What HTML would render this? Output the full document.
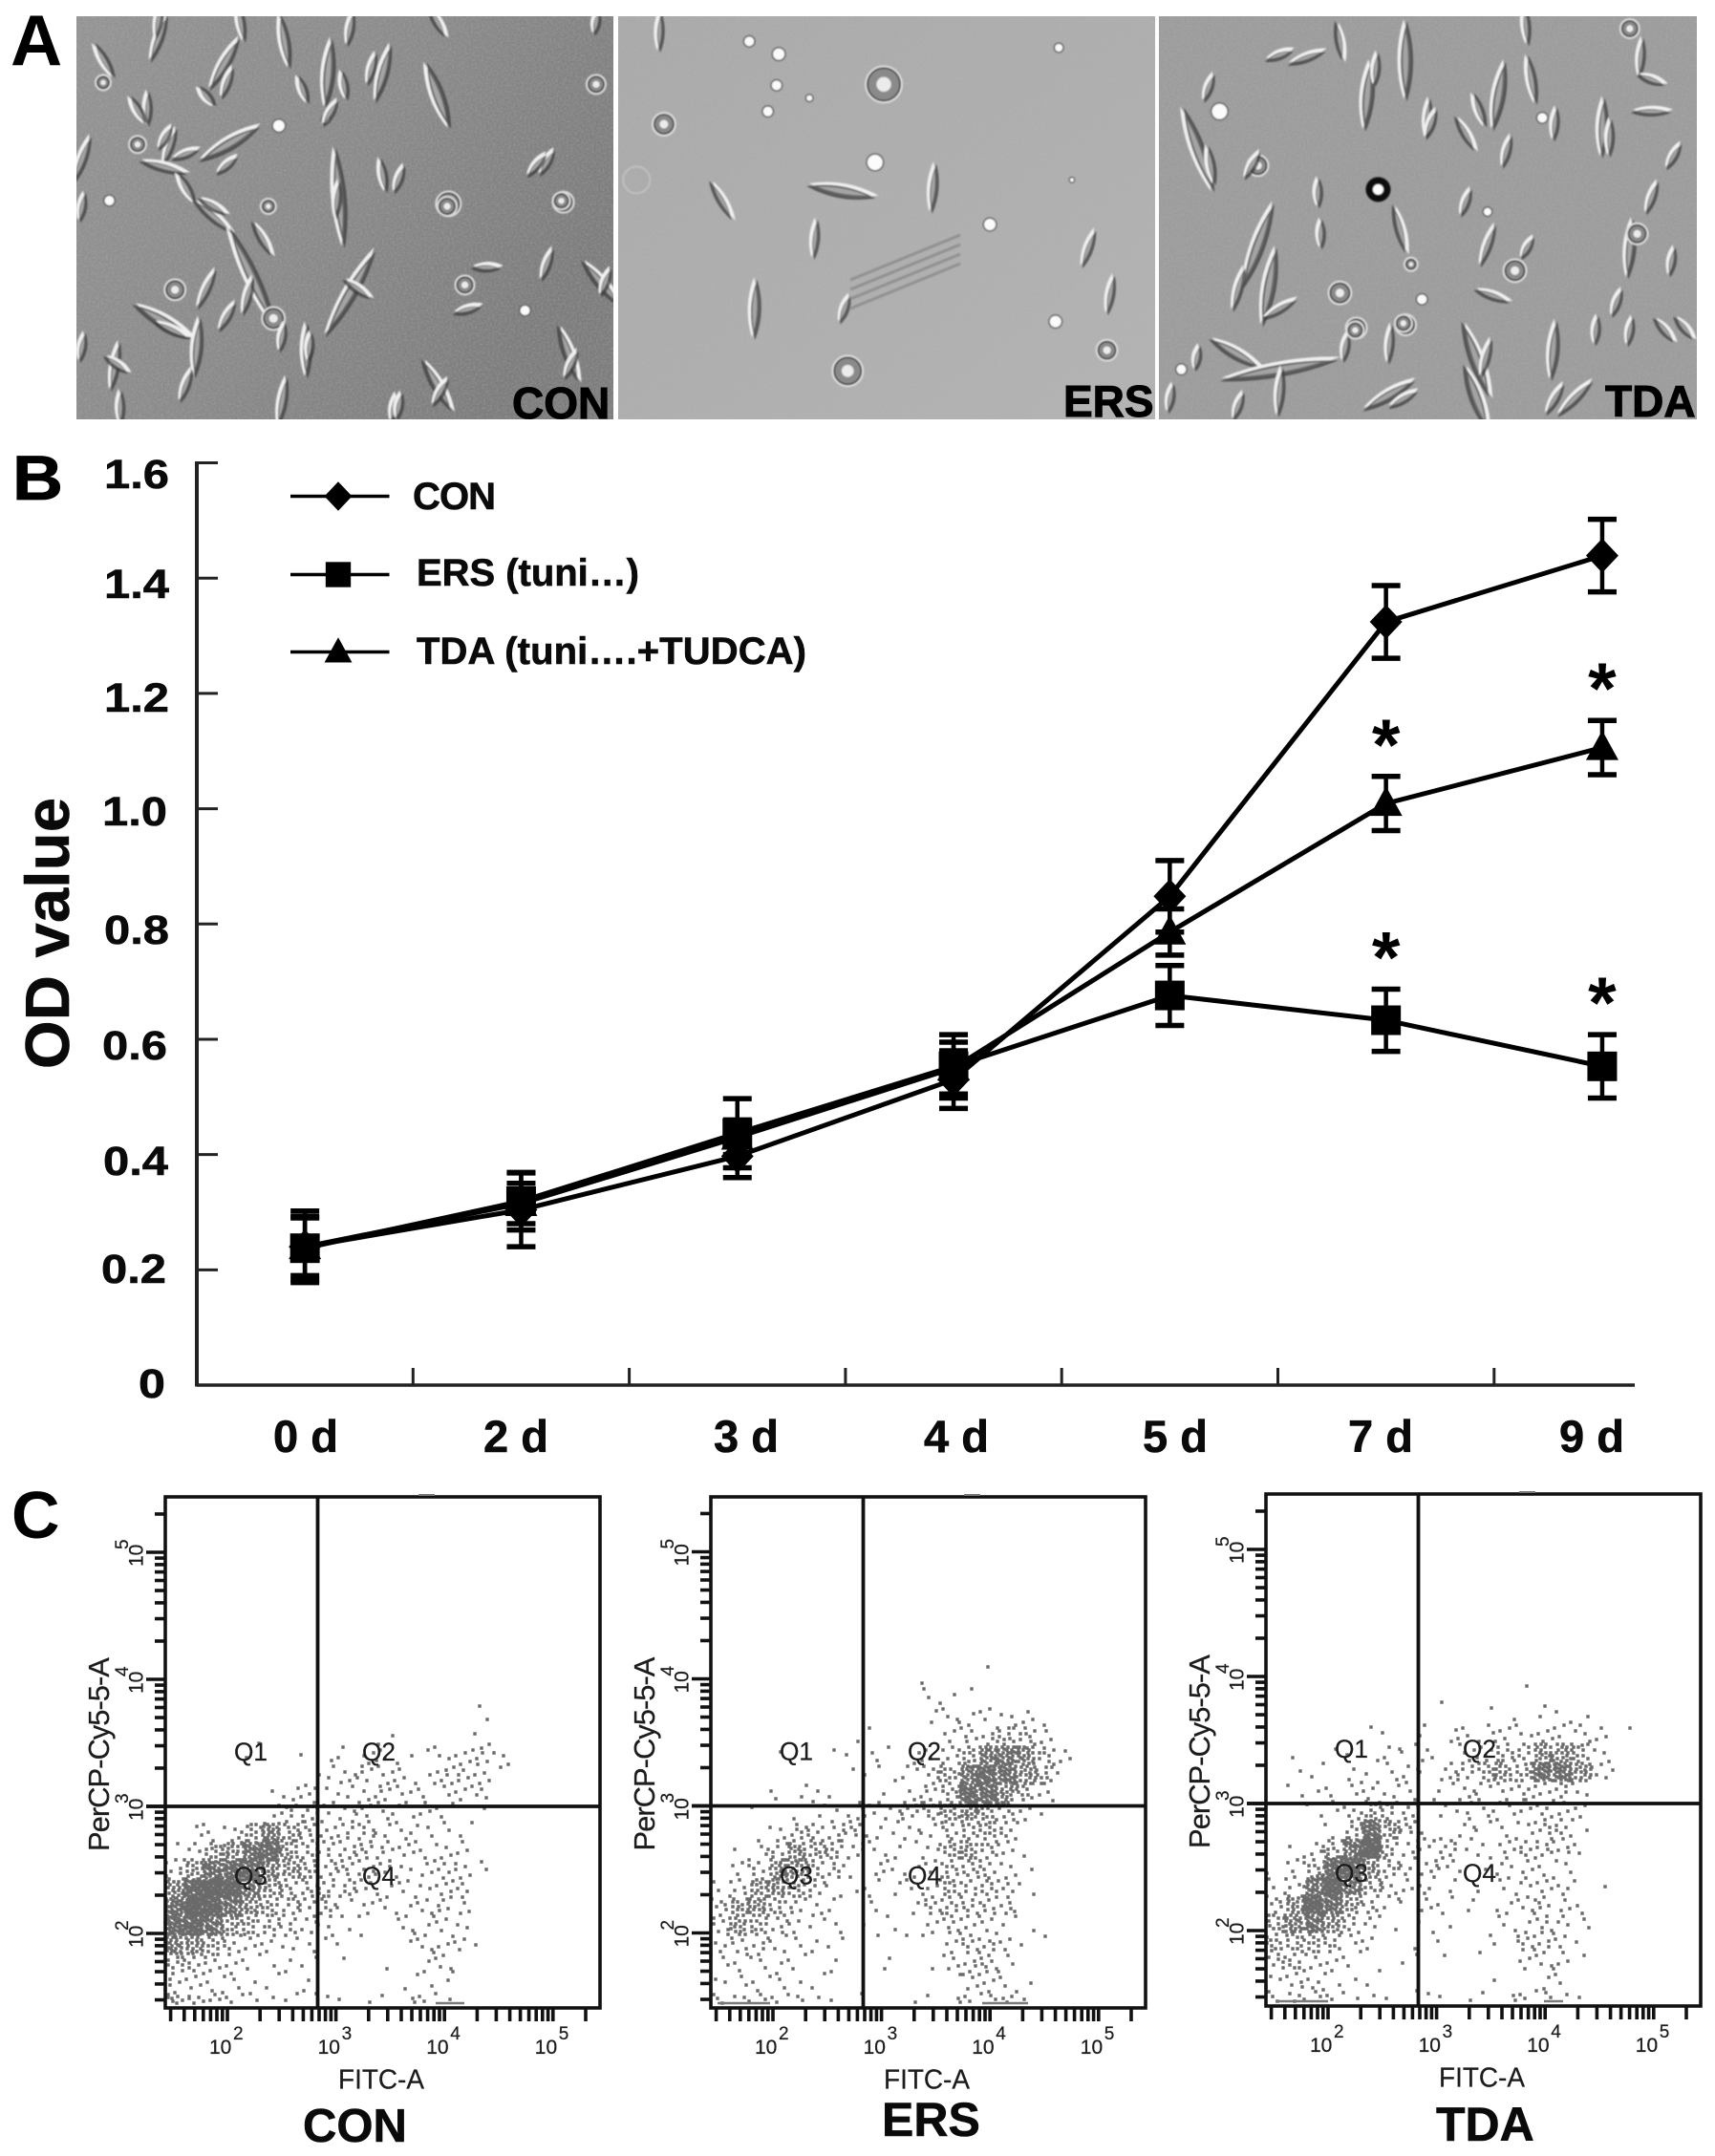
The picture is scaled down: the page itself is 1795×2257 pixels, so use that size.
<!DOCTYPE html>
<html lang="en">
<head>
<meta charset="utf-8">
<title>Cell morphology, OD growth curve and flow cytometry</title>
<style>
  html, body { margin: 0; padding: 0; background: #fff; }
  #figure { display: block; width: 1795px; height: 2257px; font-family: "Liberation Sans", sans-serif; }
  text { font-family: "Liberation Sans", sans-serif; }
  .panel-letter { font-weight: 700; fill: #000; }
  .b { font-weight: 700; fill: #0a0a0a; stroke: #0a0a0a; stroke-width: 0.6px; }
  .micro-label { font-weight: 700; font-size: 46px; fill: #000; stroke: #000; stroke-width: 1px; }
  .flow { fill: #1c1c1c; stroke: #1c1c1c; stroke-width: 0.25px; }
</style>
</head>
<body>
<svg id="figure" xmlns="http://www.w3.org/2000/svg" width="1795" height="2257" viewBox="0 0 1795 2257">
  <defs>
    <filter id="grain" x="0" y="0" width="100%" height="100%">
      <feTurbulence type="fractalNoise" baseFrequency="0.45" numOctaves="2" seed="4"/>
      <feColorMatrix type="matrix" values="0 0 0 0 0.5  0 0 0 0 0.5  0 0 0 0 0.5  1.6 0 0 0 -0.55"/>
    </filter>
    <filter id="soft" x="-5%" y="-5%" width="110%" height="110%"><feGaussianBlur stdDeviation="0.7"/></filter>
    <linearGradient id="con-shade" x1="0" y1="0" x2="1" y2="0.5">
      <stop offset="0" stop-color="#949494"/><stop offset="0.55" stop-color="#8a8a8a"/><stop offset="1" stop-color="#7c7c7c"/>
    </linearGradient>
    <linearGradient id="ers-shade" x1="0" y1="0" x2="1" y2="1">
      <stop offset="0" stop-color="#a9a9a9"/><stop offset="1" stop-color="#b3b3b3"/>
    </linearGradient>
    <clipPath id="clip-con"><rect x="80" y="17" width="562" height="422"/></clipPath>
    <clipPath id="clip-ers"><rect x="647" y="17" width="562" height="422"/></clipPath>
    <clipPath id="clip-tda"><rect x="1213" y="17" width="563" height="422"/></clipPath>
  </defs>

  <text class="panel-letter" x="11" y="68" font-size="75">A</text>
  <text class="panel-letter" x="13" y="523" font-size="66" textLength="53" lengthAdjust="spacingAndGlyphs" stroke="#000" stroke-width="0.8">B</text>
  <text class="panel-letter" x="12" y="1610" font-size="70">C</text>

  <g>
    <rect x="80" y="17" width="562" height="422" fill="url(#con-shade)"/>
    <rect x="80" y="17" width="562" height="422" filter="url(#grain)" opacity="0.35"/>
    <g id="cells-con" clip-path="url(#clip-con)" filter="url(#soft)"></g>
  </g>
  <g>
    <rect x="647" y="17" width="562" height="422" fill="url(#ers-shade)"/>
    <rect x="647" y="17" width="562" height="422" filter="url(#grain)" opacity="0.3"/>
    <g id="cells-ers" clip-path="url(#clip-ers)" filter="url(#soft)"></g>
  </g>
  <g>
    <rect x="1213" y="17" width="563" height="422" fill="#9c9c9c"/>
    <rect x="1213" y="17" width="563" height="422" filter="url(#grain)" opacity="0.3"/>
    <g id="cells-tda" clip-path="url(#clip-tda)" filter="url(#soft)"></g>
  </g>
  <text class="micro-label" x="536" y="438">CON</text>
  <text class="micro-label" x="1113" y="436">ERS</text>
  <text class="micro-label" x="1680" y="436">TDA</text>

  <g id="line-chart">
    <text class="b" font-size="65" transform="translate(72 1119) rotate(-90)" textLength="284">OD value</text>

    <g font-size="43" text-anchor="end">
      <text class="b" x="177" y="511" textLength="68" lengthAdjust="spacingAndGlyphs">1.6</text>
      <text class="b" x="177" y="626" textLength="68" lengthAdjust="spacingAndGlyphs">1.4</text>
      <text class="b" x="177" y="745" textLength="68" lengthAdjust="spacingAndGlyphs">1.2</text>
      <text class="b" x="175" y="864" textLength="68" lengthAdjust="spacingAndGlyphs">1.0</text>
      <text class="b" x="177" y="988" textLength="68" lengthAdjust="spacingAndGlyphs">0.8</text>
      <text class="b" x="175" y="1109" textLength="68" lengthAdjust="spacingAndGlyphs">0.6</text>
      <text class="b" x="176" y="1230" textLength="68" lengthAdjust="spacingAndGlyphs">0.4</text>
      <text class="b" x="174" y="1343" textLength="68" lengthAdjust="spacingAndGlyphs">0.2</text>
      <text class="b" x="173" y="1463" textLength="28" lengthAdjust="spacingAndGlyphs">0</text>
    </g>

    <g font-size="47" text-anchor="middle">
      <text class="b" x="320" y="1520">0 d</text>
      <text class="b" x="540" y="1520">2 d</text>
      <text class="b" x="781" y="1520">3 d</text>
      <text class="b" x="1001" y="1520">4 d</text>
      <text class="b" x="1230" y="1520">5 d</text>
      <text class="b" x="1445" y="1520">7 d</text>
      <text class="b" x="1666" y="1520">9 d</text>
    </g>

    <g id="chart-axes"></g>
    <g id="chart-series"></g>

    <g id="legend">
      <text class="b" x="432" y="533" font-size="40" textLength="87">CON</text>
      <text class="b" x="436" y="613" font-size="40" textLength="233">ERS (tuni…)</text>
      <text class="b" x="436" y="695" font-size="40" textLength="408">TDA (tuni….+TUDCA)</text>
    </g>
  </g>

  <g id="flow-plots"></g>

  <text class="b" x="317" y="2242" font-size="49">CON</text>
  <text class="b" x="923" y="2236" font-size="50">ERS</text>
  <text class="b" x="1503" y="2241" font-size="50">TDA</text>
</svg>

<script>
/* ---------- line chart data (panel B) ---------- */
const categories = ['0 d', '2 d', '3 d', '4 d', '5 d', '7 d', '9 d'];
const yTicks = [0, 0.2, 0.4, 0.6, 0.8, 1.0, 1.2, 1.4, 1.6];
const conValues = [0.24, 0.304, 0.397, 0.53, 0.848, 1.324, 1.439];
const conErrors = [0.062, 0.064, 0.037, 0.05, 0.062, 0.063, 0.063];
const ersValues = [0.2375, 0.319, 0.437, 0.553, 0.676, 0.633, 0.553];
const ersErrors = [0.055, 0.05, 0.06, 0.055, 0.052, 0.054, 0.055];
const tdaValues = [0.24, 0.315, 0.43, 0.55, 0.786, 1.009, 1.106];
const tdaErrors = [0.05, 0.035, 0.03, 0.045, 0.04, 0.047, 0.047];
const ersSignificant = [0, 0, 0, 0, 0, 1, 1];
const tdaSignificant = [0, 0, 0, 0, 0, 1, 1];

/* ---------- flow cytometry data (panel C) ----------
   Event density: one string per 20px row (top to bottom),
   one base-36 character per 20px column. Digits count events singly; letters
   (near-solid areas) are read as value * 2 - 9 events. */
const conDensity = ['','','','','','','','','','',
  '00000000000000001','00000000000000001','00001000000200002',
  '000010011233213463','000000003454325541','00000135133542334','00000266334423211',
  '0233aia7567343211','14aempc956754343','6cmppgca666533552','fszuic9787433355',
  'mzukea8673423453','psmca86431103333','ifa64332110013431','9753222201010231',
  '543321120000121','753221111111132'];
const ersDensity = ['','','','','','','','',
  '000000000000001','000000000001','00000000000221','000000000002333331','000000011000356983',
  '0001001121235aikg83','000000012136akpme91','0002221101368poe94','001012234367cea831',
  '00136766323379a61','0128ea952313ac841','036ee961233398741','26cea6213224a7852',
  '6ce9532021268776','6ca632202114554111','46533220000036731','2232212002014563',
  '32231100000004422','33223111001113331'];
const tdaDensity = ['','','','','','','','','','',
  '00000000010001','00000000000101221','00000110223343434301',
  '01011132304597eea3','01112133157acamme41','02123433024345563','00224a74123433443',
  '00017oc6104233662','013akz95472246752','138pse8454124333','25kuka534201344411',
  '6eumc631332034632','agme7410210023642','aaa83301010306631','68432102010003341',
  '3542110000010022','34222111111113311'];
const flowTickDecades = [2, 3, 4, 5];

/* ---------- micrograph cell sketches (panel A, zoom-view coordinates) ---------- */
const conCells = [
 ['s',145,120,50,70],['s',95,190,40,120],['s',205,200,60,60],['s',260,130,55,100],['s',300,230,70,85],['s',350,230,60,75],
 ['s',400,300,70,110],['s',135,340,35,90],['s',210,450,70,30],['s',155,460,40,70],['s',150,525,50,-15],['s',170,590,35,120],
 ['s',195,680,50,-40],['s',310,620,100,95],['s',350,550,35,100],['r',410,640,11],['r',515,635,9],['s',500,510,30,60],
 ['s',240,750,40,-60],['s',230,870,110,115],['s',320,920,100,60],['r',160,910,9],['s',150,1010,70,-30],['r',250,1000,10],
 ['s',180,1090,60,85],['s',280,1100,55,90],['s',105,1150,50,80],['s',400,1210,60,-60],['s',520,1110,60,-70],['s',550,890,60,-50],
 ['s',500,830,35,70],['s',445,840,30,0],['r',425,895,8],['s',258,1260,50,80],['s',110,1280,35,90],['s',360,1280,30,80],
 ['s',75,500,50,70],['s',75,650,30,80],['s',75,1090,30,80],['s',145,60,40,80],['s',220,70,40,100],['s',320,90,35,80],['s',400,70,35,-60],
 ['w',255,395,6],['w',298,375,4],['w',480,975,5],['w',100,630,5],['r',545,265,8],['s',545,70,25,80]
];
const ersCells = [
 ['w',685,130,5],['w',712,170,6],['w',710,268,5],['w',740,308,3],['w',702,350,5],['r',607,390,10],['w',968,150,4],
 ['r',808,265,17],['s',603,100,40,88],['w',800,510,8],['s',770,600,70,-10],['s',660,630,45,-60],['s',853,590,50,85],
 ['s',745,750,40,85],['w',905,705,6],['s',995,780,40,70],['s',1015,925,40,80],['s',690,970,60,88],['s',772,970,30,70],
 ['w',965,1010,6],['r',1012,1100,9],['r',775,1165,14],['w',980,565,2],['f',582,565,14]
];
const tdaCells = [
 ['s',1225,130,40,-80],['s',1195,180,40,20],['s',1285,190,80,90],['s',1250,300,70,85],['s',1105,275,30,70],['w',1115,350,8],
 ['s',1095,470,90,110],['r',1150,520,9],['s',1205,605,30,90],['b',1260,595,10],['s',1340,635,30,70],['s',1305,370,40,85],
 ['s',1340,420,40,-60],['s',1370,300,70,80],['s',1400,250,50,100],['s',1465,400,60,88],['s',1500,180,40,85],['s',1510,250,30,-20],
 ['s',1510,350,40,0],['s',1530,490,30,60],['s',1510,620,35,70],['s',1280,720,50,-75],['s',1150,770,90,70],['s',1160,900,80,80],
 ['s',1170,970,40,30],['s',1360,770,45,70],['r',1385,850,10],['s',1490,780,60,85],['r',1225,920,10],['r',1240,1030,9],['r',1285,1020,9],
 ['s',1130,1110,60,-30],['s',1170,1160,120,10],['s',1350,1130,80,-70],['s',1420,1100,60,85],['s',1490,1040,30,80],['s',1540,1030,30,-50],
 ['s',1270,1240,60,30],['s',1170,1230,50,85],['s',1350,1250,70,-70],['s',1440,1250,50,45],['w',1080,1160,5],['w',1300,940,5],['w',1360,665,4],
 ['r',1290,830,5],['w',1410,370,5],['s',1395,80,40,95],['r',1490,90,8],['s',1070,1250,30,80],['s',1230,1090,30,80]
];
/* extra, smaller cells positioned in the 1246px-wide overview of the figure */
const conExtraCells = [
 ['s',100,80,32,120],['s',120,100,28,60],['s',135,112,30,20],['s',165,60,34,70],['s',150,70,26,130],['s',245,145,38,85],['s',290,130,30,70],
 ['r',325,150,8],['r',408,146,7],['s',220,65,30,110],['s',270,50,34,75],['s',250,62,30,100],['s',240,82,30,60],['s',155,150,34,-30],['s',165,120,28,40],
 ['s',125,240,40,-25],['s',165,230,34,60],['s',260,210,34,-35],['s',150,210,44,65],['s',180,215,40,75],['s',205,245,30,80],['s',225,252,30,85],
 ['s',85,265,30,-35],['s',135,280,36,70],['s',320,285,32,60],['s',290,295,28,80],['s',415,265,32,65],['s',440,205,30,70],['s',390,120,30,50],['s',340,225,30,15],
 ['r',195,150,6],['r',100,105,7],['r',75,60,6]
];
const tdaExtraCells = [
 ['s',900,210,46,75],['s',880,120,40,100],['s',930,40,30,20],['s',1000,50,34,85],['s',1040,90,32,70],['s',1075,80,36,110],['s',1095,110,34,75],
 ['s',1130,90,34,85],['s',1170,100,38,88],['r',1190,170,9],['s',1215,190,30,80],['s',1175,220,30,70],['s',1085,215,38,-20],['s',1110,180,26,60],
 ['s',960,170,30,90],['s',1010,250,40,85],['s',1080,260,40,75],['s',1160,240,30,85],['s',1130,290,36,60],['s',1210,240,32,-50],['s',870,260,26,80],
 ['s',900,295,30,70],['s',1020,290,34,30],['r',985,240,7],['r',1020,235,7],['s',910,120,32,60]
];

const NS = 'http://www.w3.org/2000/svg';
function svgEl(tag, attrs, parent) {
  const el = document.createElementNS(NS, tag);
  for (const k in attrs) el.setAttribute(k, attrs[k]);
  if (parent) parent.appendChild(el);
  return el;
}

/* ---------- panel A ---------- */
function drawCells(groupId, cells, baseName, scaleX, scaleY) {
  const g = document.getElementById(groupId);
  cells.forEach(function (c) {
    const x = c[1] * scaleX, y = c[2] * scaleY;
    const cell = svgEl('g', { transform: 'translate(' + x + ' ' + y + ')' }, g);
    
    
    if (c[0] === 's') {
      const L = c[3] * 1.05, W = Math.min(6.5, Math.max(4, c[3] * 0.09));
      const rot = 'rotate(' + (-c[4]) + ')';
      const lens = 'M' + (-L / 2) + ' 0Q0 ' + (-W * 2) + ' ' + (L / 2) + ' 0Q0 ' + (W * 2) + ' ' + (-L / 2) + ' 0Z';
      svgEl('path', { d: lens, fill: '#f0f0f0', transform: rot + ' translate(1.5 -2)' }, cell);
      svgEl('path', { d: lens, fill: '#3c3c3c', 'fill-opacity': '0.75', transform: rot + ' translate(-1 1.5)' }, cell);
      svgEl('path', { d: lens, fill: '#a4a4a4', transform: rot + ' scale(0.7 0.42)' }, cell);
    } else if (c[0] === 'r') {
      svgEl('circle', { r: c[3] + 2, fill: 'none', stroke: '#dcdcdc', 'stroke-width': 2 }, cell);
      svgEl('circle', { r: c[3], fill: '#8a8a8a', stroke: '#3e3e3e', 'stroke-width': 1.6 }, cell);
      svgEl('circle', { r: c[3] * 0.45, fill: '#ececec' }, cell);
    } else if (c[0] === 'w') {
      svgEl('circle', { r: c[3] + 1.5, fill: '#5e5e5e' }, cell);
      svgEl('circle', { r: c[3], fill: '#fbfbfb' }, cell);
    } else if (c[0] === 'b') {
      svgEl('circle', { r: c[3] + 3, fill: '#111' }, cell);
      svgEl('circle', { r: c[3] * 0.55, fill: '#fff' }, cell);
    } else {
      svgEl('circle', { r: c[3], fill: 'none', stroke: '#c0c0c0', 'stroke-width': 2 }, cell);
    }
  });
}
drawCells('cells-con', conCells, 'cell-con', 1 / 0.8735, 1 / 3);
drawCells('cells-ers', ersCells, 'cell-ers', 1 / 0.8735, 1 / 3);
drawCells('cells-tda', tdaCells, 'cell-tda', 1 / 0.8735, 1 / 3);
drawCells('cells-con', conExtraCells, 'cell-con', 1.44, 1.44);
drawCells('cells-tda', tdaExtraCells, 'cell-tda', 1.44, 1.44);

const fringeGroup = svgEl('g', { stroke: '#8a8a8a', 'stroke-width': 3, opacity: 0.8 }, document.getElementById('cells-ers'));


[0, 1, 2, 3].forEach(function (i) {
  svgEl('line', { x1: 890, y1: 293 + i * 10, x2: 1005, y2: 246 + i * 10 }, fringeGroup);
});

/* ---------- panel B ---------- */
const axisLeft = 206, axisBottom = 1450, axisTop = 484.5, axisRight = 1711;
const bandWidth = 226.3;
function xPos(i) { return axisLeft + (i + 0.5) * bandWidth; }
function yPos(v) { return axisBottom - (v / 1.6) * (axisBottom - axisTop); }

const axes = document.getElementById('chart-axes');
const yAxis = svgEl('line', { x1: axisLeft, y1: axisTop - 1.5, x2: axisLeft, y2: axisBottom + 1.5, stroke: '#222', 'stroke-width': 4 }, axes);


const xAxis = svgEl('line', { x1: axisLeft, y1: axisBottom, x2: axisRight, y2: axisBottom, stroke: '#222', 'stroke-width': 3.5 }, axes);


yTicks.forEach(function (v) {
  const t = svgEl('line', { x1: axisLeft, y1: yPos(v), x2: axisLeft + 22, y2: yPos(v), stroke: '#222', 'stroke-width': 3 }, axes);
  
  
});
categories.forEach(function (c, i) {
  if (i === 0) return;
  const x = axisLeft + i * bandWidth;
  const t = svgEl('line', { x1: x, y1: axisBottom, x2: x, y2: axisBottom - 18, stroke: '#222', 'stroke-width': 3 }, axes);
  
  
});

function drawMarker(kind, x, y, parent, scale) {
  const s = scale || 1;
  if (kind === 'diamond') {
    return svgEl('path', { d: 'M' + x + ' ' + (y - 18 * s) + 'L' + (x + 17 * s) + ' ' + y + 'L' + x + ' ' + (y + 18 * s) + 'L' + (x - 17 * s) + ' ' + y + 'Z', fill: '#000' }, parent);
  }
  if (kind === 'square') {
    return svgEl('rect', { x: x - 15.5 * s, y: y - 15.5 * s, width: 31 * s, height: 31 * s, fill: '#000' }, parent);
  }
  return svgEl('path', { d: 'M' + x + ' ' + (y - 18 * s) + 'L' + (x + 17 * s) + ' ' + (y + 13 * s) + 'L' + (x - 17 * s) + ' ' + (y + 13 * s) + 'Z', fill: '#000' }, parent);
}

function drawSeries(name, kind, values, errors) {
  const layer = document.getElementById('chart-series');
  const g = svgEl('g', {}, layer);
  
  
  const points = values.map(function (v, i) { return xPos(i) + ',' + yPos(v); }).join(' ');
  const line = svgEl('polyline', { points: points, fill: 'none', stroke: '#000', 'stroke-width': 5, 'stroke-linejoin': 'round' }, g);
  
  
  values.forEach(function (v, i) {
    const x = xPos(i), top = yPos(v + errors[i]), bot = yPos(v - errors[i]);
    const bar = svgEl('g', { stroke: '#000', 'stroke-width': 4.5 }, g);
    
    
    svgEl('line', { x1: x, y1: top, x2: x, y2: bot }, bar);
    svgEl('line', { x1: x - 15, y1: top, x2: x + 15, y2: top, 'stroke-width': 5.5 }, bar);
    svgEl('line', { x1: x - 15, y1: bot, x2: x + 15, y2: bot, 'stroke-width': 5.5 }, bar);
    const m = drawMarker(kind, x, yPos(v), g);
    
    
  });
}
drawSeries('con', 'diamond', conValues, conErrors);
drawSeries('tda', 'triangle', tdaValues, tdaErrors);
drawSeries('ers', 'square', ersValues, ersErrors);

function drawAsterisks(flags, values, errors, name) {
  const layer = document.getElementById('chart-series');
  flags.forEach(function (f, i) {
    if (!f) return;
    const t = svgEl('text', { x: xPos(i), y: yPos(values[i] + errors[i]) - 7, 'font-size': 76, 'font-weight': 700, 'text-anchor': 'middle', fill: '#000' }, layer);
    
    
    t.textContent = '*';
  });
}
drawAsterisks(tdaSignificant, tdaValues, tdaErrors, 'tda');
drawAsterisks(ersSignificant, ersValues, ersErrors, 'ers');

const legend = document.getElementById('legend');
[['con', 'diamond', 519.5], ['ers', 'square', 601.5], ['tda', 'triangle', 682.5]].forEach(function (e) {
  const g = svgEl('g', {}, legend);
  
  
  svgEl('line', { x1: 304, y1: e[2], x2: 407.5, y2: e[2], stroke: '#000', 'stroke-width': 3.5 }, g);
  drawMarker(e[1], 354, e[2], g, 0.85);
});

/* ---------- panel C ---------- */
function frac(v) { return v - Math.floor(v); }
function eventsInCell(ch) {
  const n = parseInt(ch, 36);
  return n > 9 ? n * 2 - 9 : n;
}

function drawFlowPlot(name, left, top, height, density, gateX, gateY, grayRuns) {
  const root = document.getElementById('flow-plots');
  const width = 455;
  const plot = svgEl('g', { transform: 'translate(' + left + ' ' + top + ')' }, root);
  
  

  /* axis functions: log10 event value to plot-relative pixels */
  const fx = function (logV) { return 65 + 113.6 * (logV - 2); };
  const fy = function (logV) { return gateY + (3 - logV) * 133; };

  /* scatter: each density cell holds that many events at fixed sub-cell offsets */
  let d = '';
  density.forEach(function (row, r) {
    for (let c = 0; c < row.length; c++) {
      const n = eventsInCell(row[c]);
      const s1 = frac(r * 0.37 + c * 0.61), s2 = frac(r * 0.73 + c * 0.29);
      const cellH = Math.min(20, height - r * 20 - 5);
      for (let k = 0; k < n; k++) {
        const px = Math.round(c * 20 + frac(s1 + k * 0.7549) * 20);
        const py = Math.round(r * 20 + frac(s2 + k * 0.5698) * cellH);
        d += 'M' + px + ' ' + py + 'h.01';
      }
    }
  });
  const dots = svgEl('path', { d: d, fill: 'none', stroke: '#6a6a6a', 'stroke-width': 3.4, 'stroke-linecap': 'square' }, plot);
  
  

  grayRuns.forEach(function (run) {
    const u = svgEl('line', { x1: run[0], y1: height - 5, x2: run[1], y2: height - 5, stroke: '#7a7a7a', 'stroke-width': 2.5 }, plot);
    
    
  });

  const frame = svgEl('rect', { x: 0, y: 0, width: width, height: height, fill: 'none', stroke: '#111', 'stroke-width': 3.6 }, plot);
  
  
  const stub = svgEl('line', { x1: 265, y1: -2, x2: 282, y2: -2, stroke: '#777', 'stroke-width': 2 }, plot);
  
  

  const gv = svgEl('line', { x1: gateX, y1: 0, x2: gateX, y2: height, stroke: '#111', 'stroke-width': 3.8 }, plot);
  
  
  const gh = svgEl('line', { x1: -20, y1: gateY, x2: width, y2: gateY, stroke: '#111', 'stroke-width': 3.8 }, plot);
  
  

  /* log axis ticks: 30 ... 200000 */
  const tickGroup = svgEl('g', { stroke: '#111', 'stroke-width': 3.6 }, plot);
  
  
  for (let dec = 1; dec <= 5; dec++) {
    for (let m = 1; m <= 9; m++) {
      const v = m * Math.pow(10, dec);
      if (v < 30 || v > 200000) continue;
      const lg = Math.log10(v);
      svgEl('line', { x1: fx(lg), y1: height, x2: fx(lg), y2: height + 14 }, tickGroup);
      const tlen = m === 1 ? 20 : 11;
      svgEl('line', { x1: 0, y1: fy(lg), x2: -tlen, y2: fy(lg) }, tickGroup);
    }
  }

  flowTickDecades.forEach(function (dec) {
    const tx = fx(dec);
    const base = svgEl('text', { x: tx - 19, y: height + 48, 'font-size': 21, class: 'flow' }, plot);
    
    
    base.textContent = '10';
    const sup = svgEl('text', { x: tx + 6, y: height + 33, 'font-size': 19, class: 'flow' }, plot);
    
    
    sup.textContent = String(dec);

    const ty = fy(dec);
    const ybase = svgEl('text', { transform: 'translate(-23.5 ' + (ty + 15) + ') rotate(-90)', 'font-size': 21, class: 'flow' }, plot);
    
    
    ybase.textContent = '10';
    const ysup = svgEl('text', { transform: 'translate(-39 ' + (ty - 3) + ') rotate(-90)', 'font-size': 19, class: 'flow' }, plot);
    
    
    ysup.textContent = String(dec);
  });

  [['Q1', 72, gateY - 48], ['Q2', 206, gateY - 48], ['Q3', 72, gateY + 82], ['Q4', 206, gateY + 82]].forEach(function (q) {
    const t = svgEl('text', { x: q[1], y: q[2], 'font-size': 27, class: 'flow', textLength: 35, lengthAdjust: 'spacingAndGlyphs' }, plot);
    
    
    t.textContent = q[0];
  });

  const xt = svgEl('text', { x: 181, y: height + 84.5, 'font-size': 29, class: 'flow', textLength: 90, lengthAdjust: 'spacingAndGlyphs' }, plot);
  
  
  xt.textContent = 'FITC-A';
  const yt = svgEl('text', { transform: 'translate(-59 ' + (gateY + 47) + ') rotate(-90)', 'font-size': 31, class: 'flow', textLength: 203 }, plot);
  
  
  yt.textContent = 'PerCP-Cy5-5-A';
}

drawFlowPlot('con', 173, 1567, 535, conDensity, 159.5, 324, [[283, 313]]);
drawFlowPlot('ers', 744, 1567, 535, ersDensity, 159.5, 323.5, [[7, 62], [284, 332]]);
drawFlowPlot('tda', 1325, 1564, 536, tdaDensity, 159.5, 324, [[10, 65], [291, 311]]);
</script>
</body>
</html>
